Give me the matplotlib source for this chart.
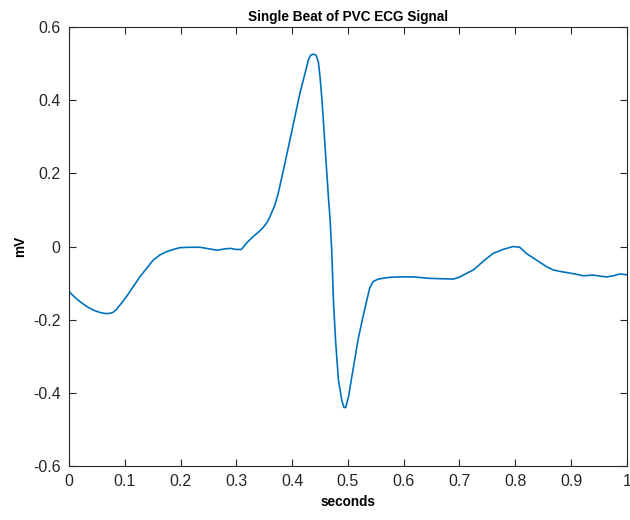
import matplotlib
matplotlib.use("Agg")
import matplotlib.pyplot as plt

# Single PVC beat, time in seconds and amplitude in mV
time_s = [0.000, 0.010, 0.020, 0.032, 0.044, 0.055, 0.064, 0.072, 0.079, 0.085,
          0.094, 0.103, 0.115, 0.127, 0.139, 0.151, 0.163, 0.175, 0.187, 0.199,
          0.217, 0.235, 0.250, 0.265, 0.277, 0.289, 0.300, 0.309, 0.318, 0.330,
          0.340, 0.348, 0.355, 0.360, 0.369, 0.375, 0.381, 0.387, 0.396, 0.405,
          0.414, 0.420, 0.426, 0.429, 0.433, 0.438, 0.443, 0.447, 0.450, 0.453,
          0.456, 0.459, 0.462, 0.465, 0.468, 0.471, 0.474, 0.478, 0.483, 0.489,
          0.493, 0.496, 0.501, 0.504, 0.511, 0.518, 0.527, 0.534, 0.539, 0.545,
          0.554, 0.575, 0.596, 0.617, 0.632, 0.647, 0.668, 0.689, 0.701, 0.713,
          0.725, 0.742, 0.760, 0.778, 0.796, 0.808, 0.820, 0.838, 0.856, 0.868,
          0.880, 0.892, 0.907, 0.922, 0.940, 0.952, 0.964, 0.976, 0.987, 1.000]
ecg_mv = [-0.123, -0.138, -0.151, -0.164, -0.174, -0.180, -0.183, -0.183, -0.180, -0.172,
          -0.155, -0.137, -0.110, -0.083, -0.060, -0.037, -0.023, -0.014, -0.008, -0.003,
          -0.002, -0.002, -0.006, -0.010, -0.007, -0.005, -0.008, -0.008, 0.009, 0.027,
          0.040, 0.052, 0.066, 0.081, 0.113, 0.145, 0.186, 0.227, 0.291, 0.355,
          0.419, 0.455, 0.491, 0.510, 0.523, 0.526, 0.523, 0.505, 0.464, 0.410,
          0.345, 0.273, 0.205, 0.136, 0.075, -0.010, -0.146, -0.260, -0.365, -0.420,
          -0.440, -0.440, -0.411, -0.383, -0.320, -0.256, -0.192, -0.146, -0.114, -0.096,
          -0.089, -0.084, -0.083, -0.083, -0.085, -0.087, -0.088, -0.089, -0.083, -0.073,
          -0.064, -0.041, -0.019, -0.008, 0.000, -0.002, -0.019, -0.037, -0.055, -0.064,
          -0.068, -0.071, -0.075, -0.080, -0.078, -0.081, -0.083, -0.080, -0.075, -0.077]

x_ticks = [0, 0.1, 0.2, 0.3, 0.4, 0.5, 0.6, 0.7, 0.8, 0.9, 1]
x_tick_labels = ["0", "0.1", "0.2", "0.3", "0.4", "0.5", "0.6", "0.7", "0.8", "0.9", "1"]
y_ticks = [-0.6, -0.4, -0.2, 0, 0.2, 0.4, 0.6]
y_tick_labels = ["-0.6", "-0.4", "-0.2", "0", "0.2", "0.4", "0.6"]

plt.rcParams['font.family'] = ['Liberation Sans', 'DejaVu Sans']

fig = plt.figure(figsize=(6.3, 5.2), dpi=100)
ax = fig.add_axes([0.1095, 0.1038, 0.8855, 0.8442])

ax.plot(time_s, ecg_mv, color='#0072BD', linewidth=1.2,
        solid_joinstyle='round', solid_capstyle='round')

ax.set_xlim(0, 1)
ax.set_ylim(-0.6, 0.6)
ax.set_xticks(x_ticks)
ax.set_xticklabels(x_tick_labels)
ax.set_yticks(y_ticks)
ax.set_yticklabels(y_tick_labels)

ax.tick_params(direction='in', top=True, right=True, length=5, width=0.8,
               labelsize=11.5, colors='#262626', pad=6)
for spine in ax.spines.values():
    spine.set_color('#262626')
    spine.set_linewidth(0.8)

ax.set_title('Single Beat of PVC ECG Signal', fontsize=9.8, fontweight='bold', pad=4)
ax.set_xlabel('seconds', fontsize=9.8, fontweight='bold', labelpad=4)
ax.set_ylabel('mV', fontsize=9.8, fontweight='bold', labelpad=4)

fig.savefig('out.png', dpi=100)
